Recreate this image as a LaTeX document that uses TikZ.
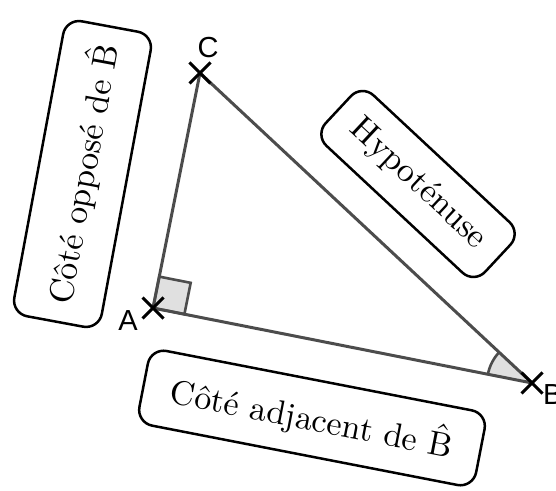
\documentclass[tikz,border=0pt]{standalone}
\usepackage{fontspec}
\setmainfont{lmroman10-regular.otf}
\newfontfamily\labelfont{Liberation Sans}
\usetikzlibrary{calc,shapes.misc}

\newcommand{\Bhat}{\accent"02C6 B}

\tikzset{
  side/.style={draw=black!70, line width=3pt, line join=round},
  anglefill/.style={draw=black!70, fill=black!12, line width=2.6pt},
  vertex/.style={draw=black, cross out, line width=3pt, minimum size=18pt, inner sep=0pt},
  ptlabel/.style={font=\labelfont\fontsize{29}{34}\selectfont, inner sep=0pt},
  tagbox/.style={draw, line width=2.5pt, rounded corners=16pt, inner sep=0pt,
    font=\fontsize{34}{40}\selectfont},
}

\begin{document}
\begin{tikzpicture}[x=1pt, y=1pt]
  \useasboundingbox (0,0) rectangle (556,490);

  % sommets du triangle
  \coordinate (A) at (153,182);
  \coordinate (B) at (532,107);
  \coordinate (C) at (200,417);

  % angle droit en A
  \coordinate (ra1) at ($(A)!32pt!(B)$);
  \coordinate (ra2) at ($(A)!32pt!(C)$);
  \draw[anglefill] (A) -- (ra1) -- ($(ra1)+(ra2)-(A)$) -- (ra2) -- cycle;

  % angle en B
  \fill[black!12] (B) -- ($(B)!45pt!(C)$) arc[start angle=137, end angle=168.8, radius=45pt] -- cycle;
  \draw[anglefill, fill=none] ($(B)!45pt!(C)$) arc[start angle=137, end angle=168.8, radius=45pt];

  \draw[side] (A) -- (B) -- (C) -- cycle;

  \node[vertex] (xA) at (A) {};
  \node[vertex] (xB) at (B) {};
  \node[vertex] (xC) at (C) {};

  \node[ptlabel] (lA) at (128,169) {A};
  \node[ptlabel, anchor=west] (lB) at (543,95) {B};
  \node[ptlabel] (lC) at (208,442) {C};

  % etiquettes des cotes
  \node[tagbox, rotate=79.5, minimum width=300pt, minimum height=89pt] (oppose) at (82.5,316)
    {Côté opposé de \Bhat};
  \node[tagbox, rotate=-43, minimum width=218pt, minimum height=69pt] (hypo) at (418,306)
    {Hypoténuse};
  \node[tagbox, rotate=-11, minimum width=343pt, minimum height=76pt] (adjacent) at (312,72)
    {Côté adjacent de \Bhat};
\end{tikzpicture}
\end{document}
